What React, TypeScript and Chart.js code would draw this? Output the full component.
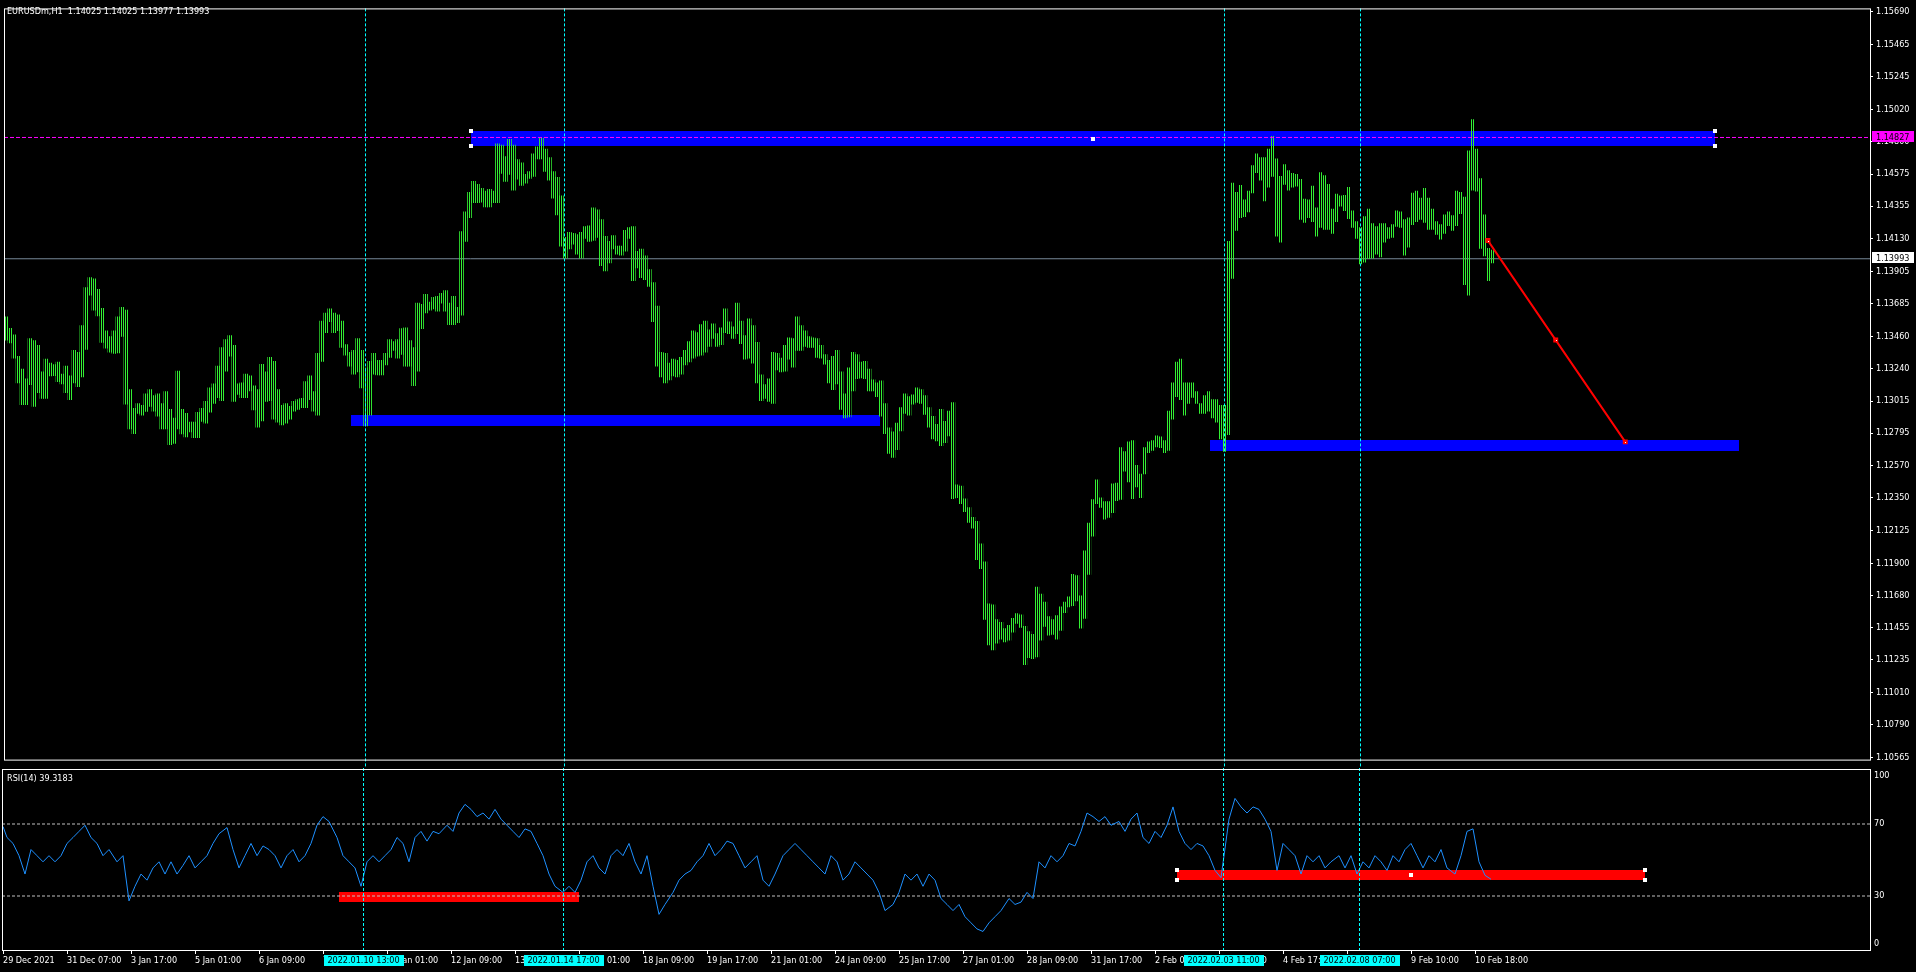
import React, { useEffect, useRef } from "react";
import { Chart, registerables } from "chart.js";

Chart.register(...registerables);

// ---------------- texts ----------------
const chartTitle = "EURUSDm,H1  1.14025 1.14025 1.13977 1.13993";
const rsiTitle = "RSI(14) 39.3183";

// ---------------- axes ----------------
const priceTicks = [
  1.1569, 1.15465, 1.15245, 1.1502, 1.148, 1.14575, 1.14355, 1.1413, 1.13905, 1.13685, 1.1346, 1.1324,
  1.13015, 1.12795, 1.1257, 1.1235, 1.12125, 1.119, 1.1168, 1.11455, 1.11235, 1.1101, 1.1079, 1.10565,
];
const priceMin = 1.105495;
const priceMax = 1.157145;
const barMin = -0.5;
const barMax = 933.5;
const timeTickBars = [0, 32, 64, 96, 128, 160, 192, 224, 256, 288, 320, 352, 384, 416, 448, 480, 512, 544, 576, 608, 640, 672, 704, 736];
const timeTickLabels = [
  "29 Dec 2021", "31 Dec 07:00", "3 Jan 17:00", "5 Jan 01:00", "6 Jan 09:00", "7 Jan 17:00", "11 Jan 01:00", "12 Jan 09:00",
  "13 Jan 17:00", "17 Jan 01:00", "18 Jan 09:00", "19 Jan 17:00", "21 Jan 01:00", "24 Jan 09:00", "25 Jan 17:00", "27 Jan 01:00",
  "28 Jan 09:00", "31 Jan 17:00", "2 Feb 01:00", "3 Feb 09:00", "4 Feb 17:00", "8 Feb 01:00", "9 Feb 10:00", "10 Feb 18:00",
];
const rsiAxisValues = [100, 70, 30, 0];
const rsiLevels = [70, 30];

// ---------------- price bars (each entry = 2 consecutive H1 bars) ----------------
const barHigh = [
  1.13593, 1.13515, 1.1347, 1.13323, 1.13235, 1.13168, 1.13445, 1.1343, 1.13398, 1.13215,
  1.13303, 1.13275, 1.13265, 1.13283, 1.132, 1.13255, 1.13188, 1.13363, 1.1335, 1.13533,
  1.13795, 1.13863, 1.13855, 1.13783, 1.13653, 1.13498, 1.13458, 1.13498, 1.13593, 1.1366,
  1.1364, 1.13093, 1.12965, 1.12998, 1.12985, 1.13065, 1.13093, 1.13053, 1.13065, 1.12998,
  1.1308, 1.12958, 1.12898, 1.1322, 1.12958, 1.1293, 1.1287, 1.1287, 1.12938, 1.12965,
  1.13013, 1.13105, 1.13133, 1.13255, 1.13383, 1.13438, 1.13465, 1.13398, 1.13133, 1.1314,
  1.132, 1.13188, 1.1312, 1.13093, 1.13268, 1.13215, 1.13315, 1.13288, 1.13093, 1.12985,
  1.12998, 1.12978, 1.13013, 1.13025, 1.13033, 1.13148, 1.13188, 1.1308, 1.13343, 1.13565,
  1.1362, 1.13648, 1.1362, 1.13608, 1.13565, 1.13403, 1.1335, 1.13363, 1.13445, 1.13363,
  1.13243, 1.13288, 1.13343, 1.13295, 1.13295, 1.13343, 1.13438, 1.13423, 1.13438, 1.13513,
  1.13518, 1.1343, 1.13383, 1.13688, 1.1368, 1.13748, 1.13695, 1.13728, 1.13735, 1.13755,
  1.13775, 1.13688, 1.13735, 1.1366, 1.1418, 1.14315, 1.1445, 1.14525, 1.14505, 1.14478,
  1.14458, 1.1447, 1.14458, 1.14783, 1.14775, 1.14695, 1.14815, 1.14775, 1.14675, 1.14653,
  1.14573, 1.14593, 1.14715, 1.14763, 1.14823, 1.14748, 1.14688, 1.14593, 1.14553, 1.14425,
  1.1414, 1.14175, 1.14168, 1.1416, 1.14175, 1.14215, 1.1422, 1.14343, 1.1433, 1.14263,
  1.14148, 1.14113, 1.14153, 1.1408, 1.1408, 1.14188, 1.14208, 1.14215, 1.14045, 1.1406,
  1.14013, 1.13918, 1.1383, 1.13668, 1.1335, 1.13343, 1.13275, 1.13303, 1.13295, 1.13315,
  1.13363, 1.13423, 1.13498, 1.13485, 1.1354, 1.13565, 1.13505, 1.13545, 1.13478, 1.13518,
  1.13648, 1.1356, 1.13525, 1.13688, 1.13565, 1.13465, 1.1358, 1.13533, 1.13418, 1.13195,
  1.13128, 1.13168, 1.1335, 1.13343, 1.1331, 1.13398, 1.1345, 1.13445, 1.13593, 1.13533,
  1.13498, 1.13458, 1.1345, 1.13445, 1.13398, 1.13335, 1.13295, 1.13323, 1.13363, 1.13215,
  1.13065, 1.13243, 1.1335, 1.13335, 1.13283, 1.13288, 1.13235, 1.1316, 1.1314, 1.13153,
  1.12998, 1.1283, 1.12803, 1.12863, 1.1297, 1.13065, 1.13045, 1.13058, 1.13105, 1.13093,
  1.13053, 1.1297, 1.1291, 1.12855, 1.12958, 1.12875, 1.12945, 1.13005, 1.12438, 1.1243,
  1.12343, 1.12283, 1.12215, 1.12188, 1.12033, 1.1191, 1.1162, 1.11613, 1.11513, 1.11493,
  1.1145, 1.11473, 1.1152, 1.11553, 1.11545, 1.11465, 1.1143, 1.1141, 1.11735, 1.11688,
  1.11633, 1.11533, 1.11513, 1.1154, 1.116, 1.11633, 1.11668, 1.11823, 1.11815, 1.11675,
  1.11985, 1.12175, 1.12338, 1.12473, 1.1235, 1.12323, 1.12323, 1.12445, 1.1245, 1.12695,
  1.12668, 1.12735, 1.12743, 1.12573, 1.12513, 1.12695, 1.12735, 1.12743, 1.12775, 1.12768,
  1.12743, 1.12945, 1.1314, 1.13283, 1.13303, 1.1314, 1.1314, 1.1314, 1.1308, 1.12998,
  1.13053, 1.1308, 1.13025, 1.13025, 1.12985, 1.12985, 1.14113, 1.14513, 1.1445, 1.14498,
  1.14398, 1.14458, 1.14633, 1.14715, 1.14688, 1.14688, 1.14748, 1.14835, 1.1468, 1.1456,
  1.1464, 1.146, 1.1458, 1.14573, 1.1454, 1.14403, 1.14398, 1.14493, 1.14343, 1.14585,
  1.14565, 1.14505, 1.14335, 1.14438, 1.14425, 1.1443, 1.14485, 1.14323, 1.14248, 1.14208,
  1.14283, 1.14335, 1.14235, 1.14215, 1.14235, 1.14235, 1.14208, 1.14228, 1.14323, 1.14315,
  1.14263, 1.14275, 1.14445, 1.14458, 1.1441, 1.14478, 1.1441, 1.14335, 1.14248, 1.14228,
  1.14295, 1.14315, 1.1429, 1.14458, 1.1445, 1.14418, 1.14735, 1.1495, 1.14748, 1.14545,
  1.14295, 1.14065, 1.14053,
];
const barLow = [
  1.13433, 1.13415, 1.1331, 1.1314, 1.1299, 1.1299, 1.13128, 1.12978, 1.13073, 1.13033,
  1.13033, 1.13188, 1.1319, 1.13148, 1.13133, 1.13073, 1.13025, 1.1314, 1.13113, 1.1318,
  1.1337, 1.13743, 1.1364, 1.136, 1.13418, 1.13378, 1.1335, 1.13343, 1.13345, 1.1346,
  1.12993, 1.12823, 1.1279, 1.1293, 1.12918, 1.12943, 1.12978, 1.12945, 1.1291, 1.12823,
  1.12823, 1.12715, 1.12723, 1.12823, 1.12788, 1.12768, 1.12803, 1.12763, 1.12763, 1.12875,
  1.12863, 1.12938, 1.12998, 1.13038, 1.13018, 1.1322, 1.13323, 1.13013, 1.1306, 1.13038,
  1.13038, 1.13085, 1.12953, 1.12835, 1.12878, 1.13013, 1.13018, 1.1289, 1.1287, 1.1285,
  1.12863, 1.1289, 1.12945, 1.12958, 1.1297, 1.1297, 1.13025, 1.12945, 1.12918, 1.13288,
  1.13485, 1.1356, 1.13485, 1.13498, 1.13383, 1.1333, 1.13255, 1.132, 1.13215, 1.13105,
  1.12843, 1.12918, 1.132, 1.13195, 1.13195, 1.13263, 1.13315, 1.13363, 1.1331, 1.13335,
  1.13255, 1.13255, 1.1312, 1.1322, 1.13513, 1.1362, 1.1364, 1.13648, 1.13633, 1.13688,
  1.13633, 1.1354, 1.1354, 1.13553, 1.13605, 1.14113, 1.14275, 1.14378, 1.14378, 1.14383,
  1.1435, 1.1435, 1.14378, 1.14378, 1.1458, 1.14525, 1.14573, 1.14465, 1.1454, 1.14498,
  1.14513, 1.14545, 1.1456, 1.1468, 1.1468, 1.14593, 1.14533, 1.1441, 1.14295, 1.1408,
  1.13998, 1.1406, 1.14093, 1.14025, 1.13998, 1.14133, 1.14113, 1.1412, 1.1414, 1.13945,
  1.1391, 1.13965, 1.1406, 1.14025, 1.14018, 1.14045, 1.14133, 1.13843, 1.1393, 1.13863,
  1.1385, 1.13803, 1.1356, 1.13255, 1.1318, 1.1314, 1.1316, 1.13188, 1.1318, 1.132,
  1.13263, 1.13283, 1.1331, 1.13323, 1.1333, 1.1335, 1.1339, 1.13445, 1.1339, 1.13403,
  1.13485, 1.13478, 1.13445, 1.13478, 1.1341, 1.13303, 1.1331, 1.13275, 1.1314, 1.13018,
  1.13033, 1.13013, 1.12998, 1.13228, 1.13215, 1.1322, 1.13303, 1.13248, 1.13363, 1.13363,
  1.1339, 1.13383, 1.13383, 1.13315, 1.1331, 1.13268, 1.1314, 1.13093, 1.13133, 1.12958,
  1.12898, 1.12905, 1.13085, 1.13168, 1.13173, 1.13168, 1.13085, 1.13085, 1.13045, 1.1291,
  1.1279, 1.12655, 1.12628, 1.1268, 1.1281, 1.1293, 1.12918, 1.12993, 1.13005, 1.12998,
  1.12923, 1.12835, 1.12755, 1.1274, 1.12708, 1.12728, 1.12775, 1.12343, 1.1235, 1.1231,
  1.12255, 1.1218, 1.1214, 1.11925, 1.11863, 1.11513, 1.11338, 1.11303, 1.1135, 1.11378,
  1.11358, 1.1137, 1.11425, 1.11485, 1.11458, 1.11203, 1.1125, 1.11243, 1.11255, 1.1137,
  1.11465, 1.11405, 1.1141, 1.11378, 1.11438, 1.1156, 1.116, 1.11608, 1.1164, 1.11453,
  1.1152, 1.11823, 1.12085, 1.1231, 1.12283, 1.12203, 1.12215, 1.12248, 1.1233, 1.12338,
  1.12533, 1.12458, 1.12343, 1.12425, 1.1235, 1.12513, 1.1266, 1.12675, 1.127, 1.12695,
  1.1266, 1.12675, 1.1289, 1.13045, 1.13025, 1.12918, 1.12998, 1.1304, 1.12998, 1.1293,
  1.1293, 1.12945, 1.12898, 1.1287, 1.12755, 1.12668, 1.12783, 1.13858, 1.14188, 1.14275,
  1.14283, 1.14315, 1.14445, 1.14585, 1.14533, 1.1439, 1.14485, 1.1456, 1.14148, 1.14108,
  1.14505, 1.14465, 1.14485, 1.14493, 1.14263, 1.14243, 1.14275, 1.14248, 1.14148, 1.14208,
  1.14195, 1.14195, 1.14168, 1.14248, 1.14355, 1.14323, 1.14268, 1.14208, 1.14133, 1.13958,
  1.1397, 1.13993, 1.13998, 1.14025, 1.14005, 1.14108, 1.14133, 1.1414, 1.14215, 1.14208,
  1.14018, 1.14073, 1.14228, 1.14248, 1.14263, 1.14243, 1.14195, 1.14195, 1.1416, 1.14128,
  1.14168, 1.1422, 1.14188, 1.1422, 1.14303, 1.13815, 1.13743, 1.14465, 1.14458, 1.14065,
  1.14013, 1.13843, 1.13965,
];

// ---------------- RSI(14) ----------------
const rsiBars = [
  0,
  2, 5, 8, 11, 14, 17, 20, 23, 26, 29, 32, 35, 38, 41, 44, 47, 50, 53,
  57, 60, 63, 66, 69, 72, 75, 78, 81, 84, 87, 90, 93, 96, 99, 102, 105, 108,
  112, 115, 118, 121, 124, 127, 130, 133, 136, 139, 142, 145, 148, 151, 154, 157, 160, 163,
  167, 170, 173, 176, 179, 182, 185, 188, 191, 194, 197, 200, 203, 206, 209, 212, 215, 218,
  222, 225, 228, 231, 234, 237, 240, 243, 246, 249, 252, 255, 258, 261, 264, 267, 270, 273, 276,
  280, 283, 286, 289, 292, 295, 298, 301, 304, 307, 310, 313, 316, 319, 322, 325, 328, 331,
  335, 338, 341, 344, 347, 350, 353, 356, 359, 362, 365, 368, 371, 374, 377, 380, 383, 386,
  390, 393, 396, 399, 402, 405, 408, 411, 414, 417, 420, 423, 426, 429, 432, 435, 438, 441,
  445, 448, 451, 454, 457, 460, 463, 466, 469, 472, 475, 478, 481, 484, 487, 490, 493, 496, 499,
  503, 506, 509, 512, 515, 518, 521, 524, 527, 530, 533, 536, 539, 542, 545, 548, 551, 554,
  558, 561, 564, 567, 570, 573, 576, 579, 582, 585, 588, 591, 594, 597, 600, 603, 606, 609,
  613, 616, 619, 622, 625, 628, 631, 634, 637, 640, 643, 646, 649, 652, 655, 658, 661, 664,
  668, 671, 674, 677, 680, 683, 686, 689, 692, 695, 698, 701, 704, 707, 710, 713, 716, 719, 722,
  726, 729, 732, 735, 738, 741, 744,
];
const rsiValues = [
  68.6,
  62.5, 59.2, 52.4, 42.2, 55.8, 52.4, 49.0, 52.4, 49.0, 52.4,
  59.2, 62.5, 65.9, 69.3, 62.5, 59.2, 52.4, 55.8, 49.0, 52.4,
  27.3, 35.4, 42.2, 38.8, 45.6, 49.0, 42.2, 49.0, 42.2, 47.0,
  52.4, 45.6, 49.0, 52.4, 59.2, 64.6, 68.0, 55.8, 45.6, 52.4,
  59.2, 52.4, 57.8, 55.8, 52.4, 45.6, 52.4, 55.8, 49.0, 52.4,
  59.2, 69.3, 74.1, 71.4, 62.5, 52.4, 49.0, 45.6, 35.4, 49.0,
  52.4, 49.0, 52.4, 55.8, 62.5, 59.2, 49.0, 62.5, 65.9, 60.5,
  65.9, 64.6, 69.3, 65.9, 76.1, 80.9, 78.1, 74.1, 76.1, 72.7,
  78.1, 72.7, 69.3, 65.9, 62.5, 67.3, 65.9, 59.2, 52.4, 42.2,
  35.4, 32.0, 35.4, 32.0, 38.8, 49.0, 52.4, 45.6, 42.2, 52.4,
  55.8, 52.4, 59.2, 49.0, 42.2, 52.4, 35.4, 19.8, 25.3, 32.0,
  38.8, 42.2, 44.2, 49.0, 52.4, 59.2, 52.4, 55.8, 60.5, 59.2,
  52.4, 45.6, 49.0, 52.4, 38.8, 35.4, 42.2, 52.4, 55.8, 59.2,
  55.8, 52.4, 49.0, 45.6, 42.2, 52.4, 49.0, 38.8, 42.2, 49.0,
  45.6, 42.2, 38.8, 32.0, 21.9, 25.3, 32.0, 42.2, 38.8, 42.2,
  35.4, 42.2, 38.8, 28.6, 25.3, 21.9, 25.3, 18.5, 15.1, 11.7,
  10.3, 15.1, 18.5, 21.9, 28.6, 25.3, 26.6, 32.0, 28.6, 49.0,
  45.6, 52.4, 49.0, 52.4, 59.2, 57.8, 65.9, 76.1, 74.1, 71.4,
  74.1, 69.3, 71.4, 65.9, 72.7, 76.1, 62.5, 59.2, 65.9, 62.5,
  69.3, 79.5, 65.9, 59.2, 55.8, 59.2, 57.8, 52.4, 44.2, 40.2,
  72.7, 84.2, 79.5, 76.1, 79.5, 78.1, 72.7, 65.9, 44.2, 59.2,
  55.8, 52.4, 42.2, 52.4, 49.0, 52.4, 45.6, 49.0, 52.4, 45.6,
  52.4, 42.2, 49.0, 45.6, 52.4, 49.0, 44.2, 52.4, 49.0, 55.8,
  59.2, 52.4, 45.6, 52.4, 49.0, 55.8, 45.6, 42.2, 52.4, 65.9,
  67.3, 49.0, 41.5, 39.3,
];

// ---------------- chart objects ----------------
const bidPrice = 1.13993;
const alertPrice = 1.14827;
const zoneFromBar = [233, 173, 603];
const zoneToBar = [856, 438, 868];
const zoneTopPrice = [1.1487, 1.12922, 1.12747];
const zoneBottomPrice = [1.14765, 1.12845, 1.12669];
const selectedZone = 0;
const rsiZoneFromBar = [168, 587];
const rsiZoneToBar = [288, 821];
const rsiZoneTop = [32.4, 44.6];
const rsiZoneBottom = [26.8, 39.1];
const selectedRsiZone = 1;
const trendBars = [742.25, 776.2, 811];
const trendPrices = [1.14118, 1.13434, 1.12734];
const vlineBars = [180, 280, 610, 678];
const vlineLabels = ["2022.01.10 13:00", "2022.01.14 17:00", "2022.02.03 11:00", "2022.02.08 07:00"];

const FONT_FAMILY = "'DejaVu Sans Condensed', 'Liberation Sans', Arial, sans-serif";
const FONT = `9px ${FONT_FAMILY}`;
const GREEN = "#33f033";
const BLUE = "#0000ff";
const RED = "#ff0000";
const CYAN = "#00ffff";

function stripePattern(ctx: CanvasRenderingContext2D, color: string) {
  const c = document.createElement("canvas");
  c.width = 2;
  c.height = 1;
  const g = c.getContext("2d")!;
  g.fillStyle = color;
  g.fillRect(1, 0, 1, 1);
  return ctx.createPattern(c, "repeat")!;
}

function handle(ctx: CanvasRenderingContext2D, x: number, y: number) {
  ctx.fillStyle = "#ffffff";
  ctx.fillRect(Math.round(x) - 2, Math.round(y) - 2, 4, 4);
}

export default function App() {
  const refA = useRef<HTMLCanvasElement>(null);
  const refB = useRef<HTMLCanvasElement>(null);

  useEffect(() => {
    document.body.style.margin = "0";
    document.body.style.background = "#000";
    const canA = refA.current!;
    const canB = refB.current!;
    const pattern = stripePattern(canA.getContext("2d")!, GREEN);

    const priceBars = barHigh.map((h, i) => ({ x: 2 * i + 0.5, y: [barLow[i], h] }));

    const mainPlugin = {
      id: "mainOverlay",
      beforeDatasetsDraw(chart: any) {
        const { ctx, scales } = chart;
        const xs = scales.x;
        const ys = scales.y;
        ctx.save();
        ctx.fillStyle = BLUE;
        for (let i = 0; i < zoneFromBar.length; i++) {
          const x0 = Math.round(xs.getPixelForValue(zoneFromBar[i]));
          const x1 = Math.round(xs.getPixelForValue(zoneToBar[i]));
          const y0 = Math.round(ys.getPixelForValue(zoneTopPrice[i]));
          const y1 = Math.round(ys.getPixelForValue(zoneBottomPrice[i]));
          ctx.fillRect(x0, y0, x1 - x0, y1 - y0);
        }
        ctx.restore();
      },
      afterDatasetsDraw(chart: any) {
        const { ctx, scales, chartArea } = chart;
        const xs = scales.x;
        const ys = scales.y;
        ctx.save();
        ctx.strokeStyle = CYAN;
        ctx.lineWidth = 1;
        ctx.setLineDash([3, 2]);
        for (const b of vlineBars) {
          const x = Math.round(xs.getPixelForValue(b)) + 0.5;
          ctx.beginPath();
          ctx.moveTo(x, chartArea.top);
          ctx.lineTo(x, chart.height);
          ctx.stroke();
        }
        ctx.setLineDash([]);
        const i = selectedZone;
        const x0 = xs.getPixelForValue(zoneFromBar[i]);
        const x1 = xs.getPixelForValue(zoneToBar[i]);
        const y0 = ys.getPixelForValue(zoneTopPrice[i]);
        const y1 = ys.getPixelForValue(zoneBottomPrice[i]);
        handle(ctx, x0, y0);
        handle(ctx, x0, y1);
        handle(ctx, x1, y0);
        handle(ctx, x1, y1);
        handle(ctx, (x0 + x1) / 2, (y0 + y1) / 2);
        ctx.fillStyle = "#ffffff";
        for (let k = 0; k < trendBars.length; k++) {
          const px = Math.round(xs.getPixelForValue(trendBars[k]));
          const py = Math.round(ys.getPixelForValue(trendPrices[k]));
          ctx.fillRect(px, py, 1, 1);
        }
        ctx.restore();
      },
      afterDraw(chart: any) {
        const { ctx, scales, chartArea } = chart;
        const ys = scales.y;
        ctx.save();
        ctx.strokeStyle = "#ffffff";
        ctx.lineWidth = 1;
        ctx.strokeRect(chartArea.left + 0.5, chartArea.top + 0.5, chartArea.right - chartArea.left, chartArea.bottom - chartArea.top);
        ctx.font = FONT;
        ctx.fillStyle = "#ffffff";
        ctx.textAlign = "left";
        ctx.textBaseline = "alphabetic";
        ctx.fillText(chartTitle, 7, 14);
        const boxes = [
          { v: alertPrice, bg: "#ff00ff" },
          { v: bidPrice, bg: "#ffffff" },
        ];
        for (const b of boxes) {
          const py = ys.getPixelForValue(b.v);
          ctx.fillStyle = b.bg;
          ctx.fillRect(chartArea.right + 2, Math.floor(py - 6), 42, 11);
          ctx.fillStyle = "#000000";
          ctx.textBaseline = "middle";
          ctx.fillText(b.v.toFixed(5), chartArea.right + 6, py);
        }
        ctx.restore();
      },
    };

    const chartA = new Chart(canA, {
      type: "bar",
      data: {
        datasets: [
          {
            type: "bar",
            label: "EURUSDm",
            data: priceBars as any,
            backgroundColor: pattern as any,
            borderWidth: 0,
            barThickness: 4,
            order: 3,
          },
          {
            type: "line",
            label: "Bid",
            data: [
              { x: barMin, y: bidPrice },
              { x: barMax, y: bidPrice },
            ],
            borderColor: "#778899",
            borderWidth: 1,
            pointRadius: 0,
            order: 4,
          },
          {
            type: "line",
            label: "Alert",
            data: [
              { x: barMin, y: alertPrice },
              { x: barMax, y: alertPrice },
            ],
            borderColor: "#ff00ff",
            borderWidth: 1,
            borderDash: [4, 2],
            pointRadius: 0,
            order: 1,
          },
          {
            type: "line",
            label: "Trend",
            data: trendBars.map((b, k) => ({ x: b, y: trendPrices[k] })),
            borderColor: RED,
            borderWidth: 2,
            pointStyle: "rect",
            pointRadius: 3.5,
            pointBackgroundColor: RED,
            pointBorderColor: RED,
            pointBorderWidth: 0,
            order: 0,
          },
        ] as any,
      },
      options: {
        responsive: false,
        animation: false,
        devicePixelRatio: 1,
        events: [],
        layout: { padding: { left: 2, top: 2, right: 0, bottom: 1 } },
        plugins: { legend: { display: false }, tooltip: { enabled: false } },
        scales: {
          x: { type: "linear", min: barMin, max: barMax, offset: false, display: false, grid: { offset: false } },
          y: {
            type: "linear",
            position: "right",
            min: priceMin,
            max: priceMax,
            afterBuildTicks: (s: any) => {
              s.ticks = [...priceTicks].sort((a, b) => a - b).map((v) => ({ value: v }));
            },
            afterFit: (s: any) => {
              s.width = 46;
            },
            ticks: {
              color: "#ffffff",
              autoSkip: false,
              padding: 3,
              font: { family: FONT_FAMILY, size: 9 },
              callback: (v: any) => Number(v).toFixed(5),
            },
            grid: { drawOnChartArea: false, drawTicks: true, tickLength: 3, color: "#ffffff" },
            border: { display: false },
          },
        },
      } as any,
      plugins: [mainPlugin],
    });

    const rsiPlugin = {
      id: "rsiOverlay",
      beforeDatasetsDraw(chart: any) {
        const { ctx, scales } = chart;
        const xs = scales.x;
        const ys = scales.y;
        ctx.save();
        ctx.fillStyle = RED;
        for (let i = 0; i < rsiZoneFromBar.length; i++) {
          const x0 = Math.round(xs.getPixelForValue(rsiZoneFromBar[i]));
          const x1 = Math.round(xs.getPixelForValue(rsiZoneToBar[i]));
          const y0 = Math.round(ys.getPixelForValue(rsiZoneTop[i]));
          const y1 = Math.round(ys.getPixelForValue(rsiZoneBottom[i]));
          ctx.fillRect(x0, y0, x1 - x0, y1 - y0);
        }
        ctx.restore();
      },
      afterDatasetsDraw(chart: any) {
        const { ctx, scales, chartArea } = chart;
        const xs = scales.x;
        const ys = scales.y;
        ctx.save();
        ctx.strokeStyle = CYAN;
        ctx.lineWidth = 1;
        ctx.setLineDash([3, 2]);
        for (const b of vlineBars) {
          const x = Math.round(xs.getPixelForValue(b)) + 0.5;
          ctx.beginPath();
          ctx.moveTo(x, 0);
          ctx.lineTo(x, chartArea.bottom + 1);
          ctx.stroke();
        }
        ctx.setLineDash([]);
        const i = selectedRsiZone;
        const x0 = xs.getPixelForValue(rsiZoneFromBar[i]);
        const x1 = xs.getPixelForValue(rsiZoneToBar[i]);
        const y0 = ys.getPixelForValue(rsiZoneTop[i]);
        const y1 = ys.getPixelForValue(rsiZoneBottom[i]);
        handle(ctx, x0, y0);
        handle(ctx, x0, y1);
        handle(ctx, x1, y0);
        handle(ctx, x1, y1);
        handle(ctx, (x0 + x1) / 2, (y0 + y1) / 2);
        ctx.restore();
      },
      afterDraw(chart: any) {
        const { ctx, scales, chartArea } = chart;
        const xs = scales.x;
        const ys = scales.y;
        ctx.save();
        ctx.strokeStyle = "#ffffff";
        ctx.lineWidth = 1;
        ctx.strokeRect(chartArea.left + 0.5, chartArea.top - 0.5, chartArea.right - chartArea.left, chartArea.bottom - chartArea.top + 1);
        ctx.font = FONT;
        ctx.fillStyle = "#ffffff";
        ctx.textAlign = "left";
        ctx.textBaseline = "alphabetic";
        ctx.fillText(rsiTitle, 7, 13);
        ctx.textBaseline = "middle";
        for (const v of rsiAxisValues) {
          let py = ys.getPixelForValue(v);
          py = Math.min(Math.max(py, chartArea.top + 6), chartArea.bottom - 6);
          ctx.fillText(String(v), chartArea.right + 4, py);
        }
        ctx.textAlign = "center";
        for (let k = 0; k < vlineBars.length; k++) {
          const x = Math.round(xs.getPixelForValue(vlineBars[k])) + 0.5;
          ctx.fillStyle = CYAN;
          ctx.fillRect(Math.round(x - 40), chartArea.bottom + 5, 80, 11);
          ctx.fillStyle = "#000000";
          ctx.fillText(vlineLabels[k], x, chartArea.bottom + 10.5);
        }
        ctx.restore();
      },
    };

    const chartB = new Chart(canB, {
      type: "line",
      data: {
        datasets: [
          {
            label: "RSI(14)",
            data: rsiBars.map((b, i) => ({ x: b, y: rsiValues[i] })),
            borderColor: "#1e90ff",
            borderWidth: 1,
            pointRadius: 0,
            tension: 0,
            order: 0,
          },
          ...rsiLevels.map((lv) => ({
            label: "level " + lv,
            data: [
              { x: barMin, y: lv },
              { x: barMax, y: lv },
            ],
            borderColor: "#c0c0c0",
            borderWidth: 1,
            borderDash: [3, 2],
            pointRadius: 0,
            order: 1,
          })),
        ] as any,
      },
      options: {
        responsive: false,
        animation: false,
        devicePixelRatio: 1,
        events: [],
        layout: { padding: { left: 2, top: 2, right: 0, bottom: 0 } },
        plugins: { legend: { display: false }, tooltip: { enabled: false } },
        scales: {
          x: {
            type: "linear",
            position: "bottom",
            min: barMin,
            max: barMax,
            offset: false,
            afterBuildTicks: (s: any) => {
              s.ticks = timeTickBars.map((v) => ({ value: v }));
            },
            afterFit: (s: any) => {
              s.height = 22;
            },
            ticks: {
              autoSkip: false,
              maxRotation: 0,
              minRotation: 0,
              align: "start",
              color: "#ffffff",
              padding: 1,
              font: { family: FONT_FAMILY, size: 9 },
              callback: (_v: any, i: number) => timeTickLabels[i],
            },
            grid: { drawOnChartArea: false, drawTicks: true, tickLength: 4, color: "#ffffff" },
            border: { display: false },
          },
          y: {
            type: "linear",
            position: "right",
            min: 0,
            max: 100,
            afterFit: (s: any) => {
              s.width = 46;
            },
            ticks: { display: false },
            grid: { display: false },
            border: { display: false },
          },
        },
      } as any,
      plugins: [rsiPlugin],
    });

    return () => {
      chartA.destroy();
      chartB.destroy();
    };
  }, []);

  return (
    <div style={{ position: "relative", width: 1916, height: 972, background: "#000", overflow: "hidden" }}>
      <canvas ref={refA} width={1916} height={768} style={{ position: "absolute", left: 0, top: 0, width: 1916, height: 768 }} />
      <canvas ref={refB} width={1916} height={204} style={{ position: "absolute", left: 0, top: 768, width: 1916, height: 204 }} />
    </div>
  );
}
